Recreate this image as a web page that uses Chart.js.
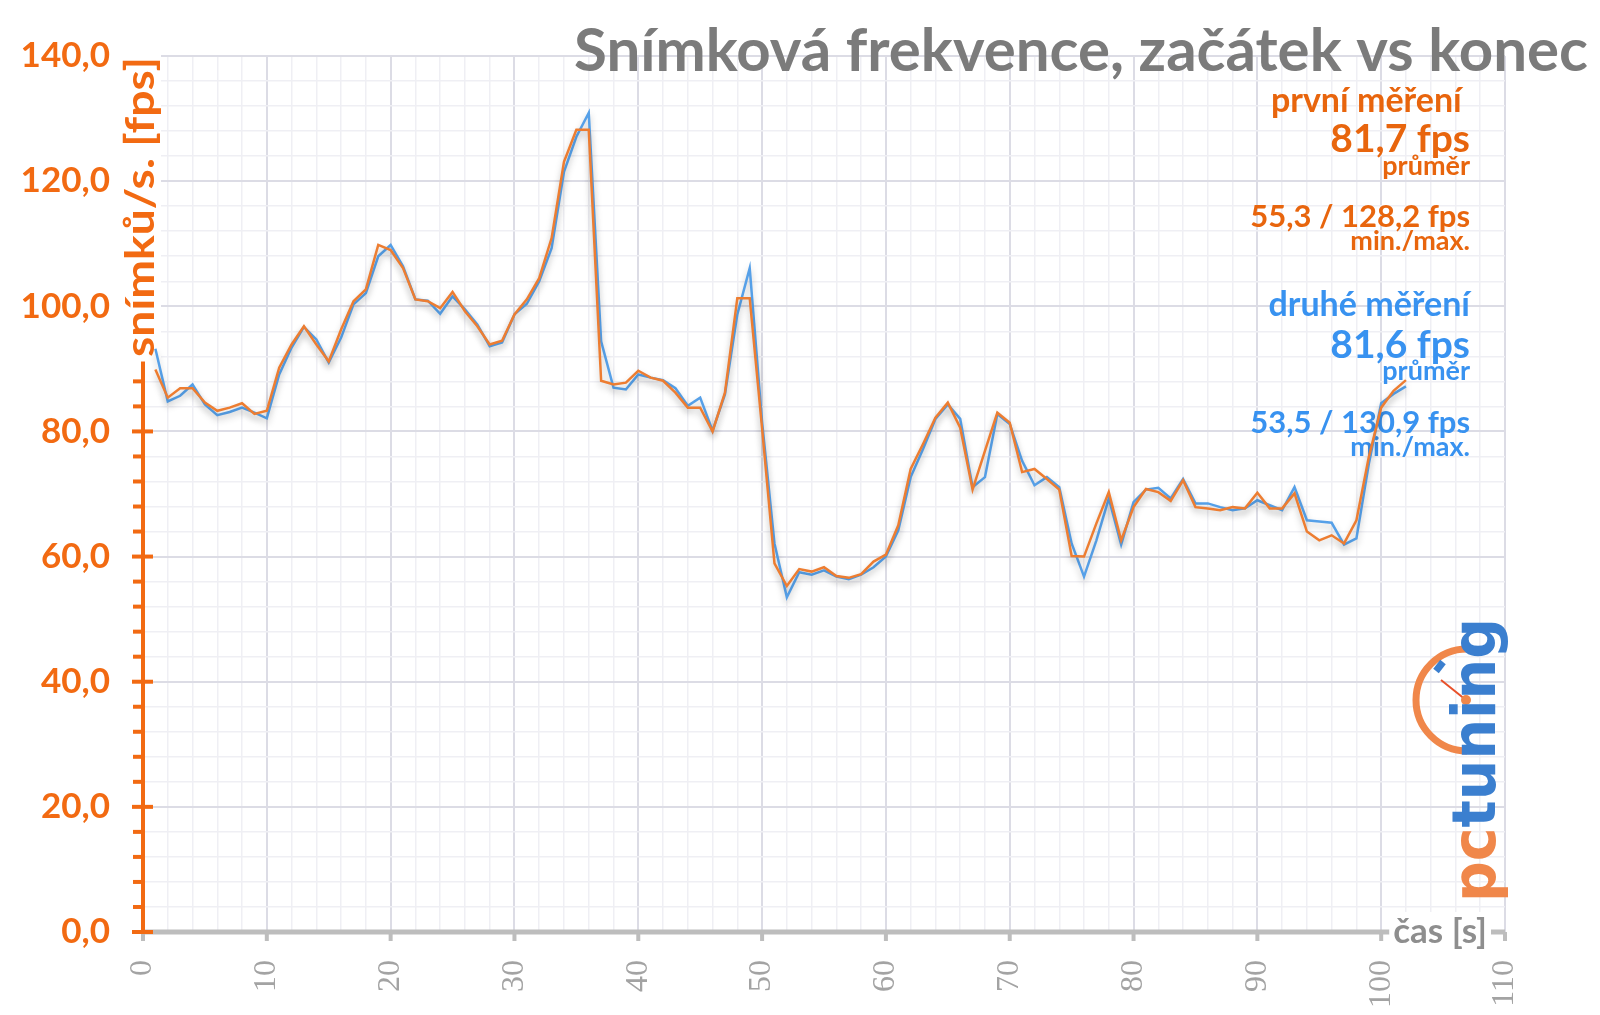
<!DOCTYPE html>
<html>
<head>
<meta charset="utf-8">
<script src="https://cdn.jsdelivr.net/npm/chart.js@4.4.0/dist/chart.umd.min.js"></script>
<style>
html,body{margin:0;padding:0;background:#fff}
</style>
</head>
<body>
<canvas id="graf" width="1600" height="1015"></canvas>
<script>
// cas [s]
var sekundy = [1,2,3,4,5,6,7,8,9,10,11,12,13,14,15,16,17,18,19,20,
  21,22,23,24,25,26,27,28,29,30,31,32,33,34,35,36,37,38,39,40,
  41,42,43,44,45,46,47,48,49,50,51,52,53,54,55,56,57,58,59,60,
  61,62,63,64,65,66,67,68,69,70,71,72,73,74,75,76,77,78,79,80,
  81,82,83,84,85,86,87,88,89,90,91,92,93,94,95,96,97,98,99,100,101,102];

var prvniMereni = [89.9,85.4,86.9,86.9,84.6,83.3,83.8,84.5,82.8,83.3,
  90.2,93.9,96.8,93.9,91.2,96.3,100.8,102.7,109.8,109.0,
  106.1,101.1,100.8,99.7,102.3,99.2,96.8,93.9,94.5,98.7,
  101.1,104.5,110.9,123.1,128.2,128.2,88.1,87.5,87.8,89.7,
  88.6,88.1,86.2,83.8,83.8,80.0,86.2,101.3,101.3,80.5,
  58.9,55.3,58.0,57.6,58.3,56.9,56.6,57.2,59.2,60.3,
  65.0,74.0,78.0,82.2,84.6,80.6,70.7,76.9,83.0,81.4,
  73.5,74.0,72.4,70.7,60.1,60.0,65.3,70.3,62.6,67.9,
  70.8,70.3,68.9,72.2,67.9,67.7,67.4,67.9,67.7,70.2,
  67.7,67.7,70.1,64.0,62.6,63.4,62.1,65.8,75.9,83.8,86.5,88.2];

var druheMereni = [93.2,84.8,85.7,87.5,84.3,82.6,83.1,83.8,83.0,82.1,
  89.1,93.4,96.7,94.7,91.0,95.0,100.3,102.1,108.0,109.8,
  106.4,101.1,100.9,98.8,101.6,99.5,97.1,93.6,94.2,98.7,
  100.4,104.0,109.3,121.5,127.1,130.9,94.4,87.0,86.7,89.1,
  88.6,88.2,86.9,84.1,85.4,80.1,85.9,98.7,106.1,81.5,
  62.1,53.5,57.5,57.1,57.8,56.8,56.4,57.1,58.3,60.0,
  64.2,72.7,77.2,82.0,84.3,82.0,71.1,72.7,82.8,81.2,
  75.3,71.4,72.7,71.1,62.1,56.8,62.6,69.3,61.9,68.7,
  70.7,71.0,69.3,72.4,68.5,68.5,67.9,67.4,67.7,69.0,
  68.2,67.4,71.1,65.8,65.6,65.4,61.9,62.9,74.8,84.5,86.0,87.2];

var nadpis = "Snímková frekvence, začátek vs konec";
var popisY = "snímků/s. [fps]";
var popisX = "čas [s]";
var souhrn1 = ["první měření ", "81,7 fps", "průměr", "55,3 / 128,2 fps", "min./max."];
var souhrn2 = ["druhé měření", "81,6 fps", "průměr", "53,5 / 130,9 fps", "min./max."];

var oranzova = '#ed7d31', modra = '#56a0e8';
var oranzTxt = '#e8650d', modraTxt = '#3892f0', osaOranz = '#f26a12';

function carka(v){ return v.toFixed(1).replace('.', ','); }
function body(ys){ return sekundy.map(function(s,i){ return {x:s, y:ys[i]}; }); }

var vyzdoba = {
  id: 'vyzdoba',
  beforeDatasetsDraw: function(chart){
    var c = chart.ctx, a = chart.chartArea, sx = chart.scales.x, sy = chart.scales.y;
    c.save();
    // osa x
    c.strokeStyle = '#bdbdbd';
    c.lineWidth = 5;
    c.beginPath(); c.moveTo(a.left, a.bottom); c.lineTo(a.right, a.bottom); c.stroke();
    c.lineWidth = 4;
    sx.ticks.forEach(function(t){
      if (t.value % 10 !== 0) return;
      var px = sx.getPixelForValue(t.value);
      c.beginPath(); c.moveTo(px, a.bottom); c.lineTo(px, a.bottom + 9); c.stroke();
    });
    // osa y
    c.strokeStyle = osaOranz;
    c.lineWidth = 4;
    c.beginPath(); c.moveTo(a.left, a.top); c.lineTo(a.left, a.bottom); c.stroke();
    sy.ticks.forEach(function(t){
      var py = sy.getPixelForValue(t.value);
      c.beginPath();
      if (t.value % 20 === 0) { c.moveTo(a.left - 11, py); c.lineTo(a.left + 10, py); }
      else { c.moveTo(a.left - 10, py); c.lineTo(a.left, py); }
      c.stroke();
    });
    // popis osy y
    c.save();
    c.translate(a.left - 2, 207);
    c.rotate(-Math.PI / 2);
    c.font = 'bold 41px Lato';
    var w = c.measureText(popisY).width;
    c.scale(300 / w, 1);
    c.fillStyle = '#fff';
    c.fillRect(-w / 2 - 4, -20, w + 8, 40);
    c.fillStyle = osaOranz;
    c.textAlign = 'center';
    c.textBaseline = 'middle';
    c.fillText(popisY, 0, 0);
    c.restore();
    // popis osy x
    c.font = 'bold 35px Lato';
    c.textAlign = 'right';
    c.textBaseline = 'middle';
    var wx = c.measureText(popisX).width;
    c.fillStyle = '#fff';
    c.fillRect(1487 - wx - 4, a.bottom - 20, wx + 8, 38);
    c.fillStyle = '#8e8e8e';
    c.fillText(popisX, 1487, a.bottom);
    // nadpis
    c.font = 'bold 60px Lato';
    c.fillStyle = '#7b7b7b';
    c.textAlign = 'right';
    c.textBaseline = 'alphabetic';
    c.fillText(nadpis, 1588, 71);
    // souhrn
    var velikosti = [34, 39, 27, 31, 27];
    var y1 = [101, 139, 166, 217, 241];
    var y2 = [305, 345, 371, 423, 447];
    c.textBaseline = 'middle';
    souhrn1.forEach(function(t, i){
      c.font = 'bold ' + velikosti[i] + 'px Lato';
      c.fillStyle = oranzTxt;
      c.fillText(t, 1470, y1[i]);
    });
    souhrn2.forEach(function(t, i){
      c.font = 'bold ' + velikosti[i] + 'px Lato';
      c.fillStyle = modraTxt;
      c.fillText(t, 1470, y2[i]);
    });
    // logo
    c.lineWidth = 7;
    c.strokeStyle = '#f0874a';
    c.beginPath();
    c.arc(1467, 700, 51, Math.PI * 0.5, Math.PI * 1.5);
    c.stroke();
    c.strokeStyle = '#3b7fcf';
    c.lineWidth = 7;
    c.beginPath(); c.moveTo(1436, 671); c.lineTo(1443, 662); c.stroke();
    c.strokeStyle = '#e8502a';
    c.lineWidth = 2;
    c.beginPath(); c.moveTo(1441, 680); c.lineTo(1466, 700); c.stroke();
    c.fillStyle = '#f0874a';
    c.beginPath(); c.arc(1466, 700, 5, 0, Math.PI * 2); c.fill();
    c.save();
    c.translate(1495, 902);
    c.rotate(-Math.PI / 2);
    c.font = 'bold 60px "DejaVu Sans"';
    c.textAlign = 'left';
    c.textBaseline = 'alphabetic';
    var wp = c.measureText('pc').width, wt = c.measureText('tuning').width;
    c.scale(284 / (wp + wt), 1);
    c.fillStyle = '#f0874a';
    c.fillText('pc', 0, 0);
    c.fillStyle = '#3b7fcf';
    c.fillText('tuning', wp, 0);
    c.restore();
    c.restore();
    // stin car
    c.save();
    c.shadowColor = 'rgba(0,0,0,0.22)';
    c.shadowBlur = 7;
    c.shadowOffsetY = 4;
  },
  afterDatasetsDraw: function(chart){
    chart.ctx.restore();
  }
};

var ctx = document.getElementById('graf').getContext('2d');
var graf = new Chart(ctx, {
  type: 'line',
  data: {
    datasets: [
      { label: 'první měření', data: body(prvniMereni), borderColor: oranzova, borderWidth: 2.5, pointRadius: 0, tension: 0, fill: false },
      { label: 'druhé měření', data: body(druheMereni), borderColor: modra, borderWidth: 2.5, pointRadius: 0, tension: 0, fill: false }
    ]
  },
  options: {
    responsive: false,
    animation: false,
    layout: { padding: { left: 0, right: 95, top: 56, bottom: 0 } },
    plugins: { legend: { display: false }, tooltip: { enabled: false }, title: { display: false } },
    scales: {
      x: {
        type: 'linear', min: 0, max: 110,
        afterFit: function(s){ s.height = 83; },
        border: { display: false },
        grid: {
          drawTicks: false,
          color: function(c){ return c.tick && c.tick.value % 10 === 0 ? '#dcdce5' : '#efeff4'; },
          lineWidth: function(c){ return c.tick && c.tick.value % 10 === 0 ? 2 : 1.5; }
        },
        ticks: {
          stepSize: 2, autoSkip: false, maxRotation: 90, minRotation: 90, padding: 28,
          color: '#a3a3a3',
          font: { family: '"Liberation Serif"', size: 32 },
          callback: function(v){ return v % 10 === 0 ? String(v) : ''; }
        }
      },
      y: {
        min: 0, max: 140,
        afterFit: function(s){ s.width = 143; },
        border: { display: false },
        grid: {
          drawTicks: false,
          color: function(c){ return c.tick && c.tick.value % 20 === 0 ? '#dcdce5' : '#efeff4'; },
          lineWidth: function(c){ return c.tick && c.tick.value % 20 === 0 ? 2 : 1.5; }
        },
        ticks: {
          stepSize: 4, autoSkip: false, padding: 33,
          color: osaOranz,
          font: { family: 'Lato', size: 35, weight: 'bold' },
          callback: function(v){ return v % 20 === 0 ? carka(v) : ''; }
        }
      }
    }
  },
  plugins: [vyzdoba]
});
</script>
</body>
</html>
